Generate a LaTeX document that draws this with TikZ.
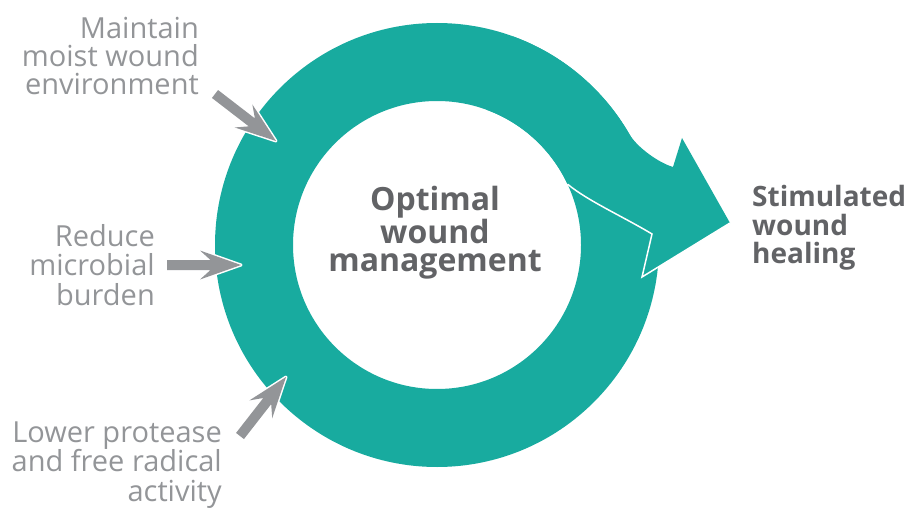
\documentclass[tikz,border=0pt]{standalone}
\usepackage{fontspec}
\setmainfont{Open Sans}
\usetikzlibrary{calc}
\definecolor{ringteal}{HTML}{18AB9F}
\definecolor{lightgrey}{HTML}{939598}
\definecolor{darkgrey}{HTML}{626366}
\newcommand\greyarrow[2]{%
  \fill[lightgrey, preaction={draw=white, line width=3pt, line join=round}]
    ($(#1)!5pt!90:(#2)$) --
    ($(#2)!30.5pt!(#1)!5pt!-90:(#1)$) --
    ($(#2)!41pt!(#1)!14.5pt!-90:(#1)$) --
    (#2) --
    ($(#2)!41pt!(#1)!14.5pt!90:(#1)$) --
    ($(#2)!30.5pt!(#1)!5pt!90:(#1)$) --
    ($(#1)!5pt!-90:(#2)$) -- cycle;}
\begin{document}
\begin{tikzpicture}[x=1pt,y=-1pt,
  lbl/.style={font=\fontsize{29}{28.5}\selectfont, text=lightgrey, align=right, inner sep=0pt, anchor=base east},
  ctr/.style={font=\bfseries\fontsize{32}{28.3}\selectfont, text=darkgrey, align=center, inner sep=0pt, anchor=base},
  res/.style={font=\bfseries\fontsize{28}{28.3}\selectfont, text=darkgrey, align=left, inner sep=0pt, anchor=base west}]
\useasboundingbox (0,0) rectangle (910,513);
% geometry
\coordinate (C) at (437,245);
\coordinate (S) at ($(C)+(-70:222)$);
\coordinate (ntU) at (673,167);
\coordinate (bU) at (682,138);
\coordinate (tip) at (730,223);
\coordinate (bL) at (642,277);
\coordinate (ntL) at (652,234);
\coordinate (P) at ($(C)+(-25:144)$);
% ring
\fill[ringteal, even odd rule] (C) circle[radius=222] (C) circle[radius=144];
% arrow out of the ring
\fill[ringteal] (S) arc[start angle=-70, end angle=-30, radius=222]
  .. controls (636.8,147) and (658,162.5) .. (ntU) -- (bU) -- (tip) -- (bL) -- (ntL)
  .. controls (622,216) and (588,201) .. (P)
  arc[start angle=-25, end angle=-70, radius=144] -- cycle;
\draw[white, line width=1.5pt, line join=miter] (P) .. controls (588,201) and (622,216) .. (ntL) -- (bL) -- (tip);
% texts (anchor = baseline of the last line)
\node[ctr] (centre) at (435,271.7) {Optimal\\wound\\management};
\node[res] (result) at (752,263.3) {Stimulated\\wound\\healing};
\node[lbl, font=\fontsize{29}{28}\selectfont] (moist) at (199,95) {Maintain\\moist wound\\environment};
\node[lbl, font=\fontsize{29}{29.5}\selectfont] (microbe) at (155,305) {Reduce\\microbial\\burden};
\node[lbl, font=\fontsize{29}{29.5}\selectfont] (protease) at (222,501) {Lower protease\\and free radical\\activity};
% grey arrows
\coordinate (a1s) at (215,94);  \coordinate (a1e) at (276,141);
\coordinate (a2s) at (167,265); \coordinate (a2e) at (241,265);
\coordinate (a3s) at (240,436); \coordinate (a3e) at (286,377);
\greyarrow{a1s}{a1e}
\greyarrow{a2s}{a2e}
\greyarrow{a3s}{a3e}
\end{tikzpicture}
\end{document}
